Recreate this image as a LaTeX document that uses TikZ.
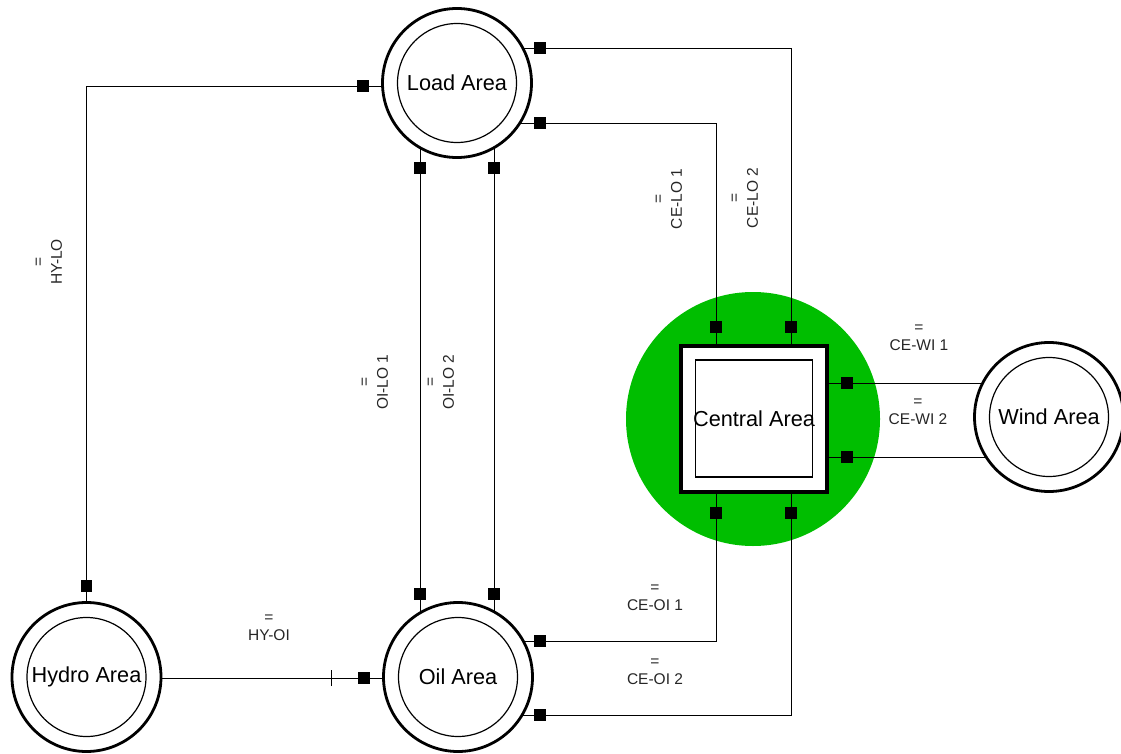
\documentclass[tikz,border=0pt]{standalone}
\usepackage{fontspec}
\setmainfont{Liberation Sans}
\pgfdeclarelayer{back}
\pgfdeclarelayer{wires}
\pgfsetlayers{back,wires,main}
\definecolor{areagreen}{RGB}{0,190,0}
\tikzset{
  area/.style={circle, draw, line width=2.8pt, fill=white, minimum size=149pt, inner sep=0pt,
    font=\fontsize{21.7}{26}\selectfont,
    path picture={\draw[line width=1.2pt] (path picture bounding box.center) circle (59.5pt);}},
  hub/.style={rectangle, draw, line width=4pt, fill=white, minimum size=146pt, inner sep=0pt,
    font=\fontsize{21.7}{26}\selectfont,
    path picture={\draw[line width=1.5pt] ([shift={(-58.7pt,-58.7pt)}]path picture bounding box.center) rectangle ([shift={(58.7pt,58.7pt)}]path picture bounding box.center);}},
  zone/.style={circle, fill=areagreen, minimum size=254pt, inner sep=0pt},
  port/.style={rectangle, fill=black, minimum size=11.5pt, inner sep=0pt},
  wire/.style={line width=0.9pt},
  lbl/.style={align=center, font=\fontsize{15.5}{18.5}\selectfont, text=black!85, inner sep=1pt},
}
\begin{document}
\begin{tikzpicture}[x=1pt,y=-1pt]
\useasboundingbox (0,0) rectangle (1121,754);
% areas
\node[area] (load) at (457,83) {Load Area};
\node[area] (oil) at (458,677) {Oil Area};
\node[area] (hydro) at (86.5,677) {Hydro Area};
\node[area] (wind) at (1049,417) {Wind Area};
\begin{pgfonlayer}{back}
\node[zone] (zonece) at (753,419) {};
\end{pgfonlayer}
\node[hub] (central) at (754,418.5) {Central Area};
% ports
\node[port] (pL1) at (540,48) {};
\node[port] (pL2) at (540,123) {};
\node[port] (pLH) at (363,86) {};
\node[port] (pLB1) at (420,168) {};
\node[port] (pLB2) at (494,168) {};
\node[port] (pH) at (86.5,586) {};
\node[port] (pOT1) at (420,594) {};
\node[port] (pOT2) at (494,594) {};
\node[port] (pO1) at (540,641) {};
\node[port] (pO2) at (540,715) {};
\node[port] (pOH) at (364,678) {};
\node[port] (pCT1) at (716,327) {};
\node[port] (pCT2) at (791,327) {};
\node[port] (pCB1) at (716,513) {};
\node[port] (pCB2) at (791,513) {};
\node[port] (pCR1) at (847,383) {};
\node[port] (pCR2) at (847,457) {};
\coordinate (tick) at (331,678);
% wires
\begin{pgfonlayer}{wires}
\draw[wire] (load.center |- pLH) -- (pLH) -- (pLH -| pH) -- (pH) -- (hydro.center);
\draw[wire] (load.center -| pLB1) -- (pLB1) -- (pOT1) -- (oil.center -| pOT1);
\draw[wire] (load.center -| pLB2) -- (pLB2) -- (pOT2) -- (oil.center -| pOT2);
\draw[wire] (load.center |- pL2) -- (pL2) -- (pL2 -| pCT1) -- (pCT1) -- (central.center -| pCT1);
\draw[wire] (load.center |- pL1) -- (pL1) -- (pL1 -| pCT2) -- (pCT2) -- (central.center -| pCT2);
\draw[wire] (oil.center |- pO1) -- (pO1) -- (pO1 -| pCB1) -- (pCB1) -- (central.center -| pCB1);
\draw[wire] (oil.center |- pO2) -- (pO2) -- (pO2 -| pCB2) -- (pCB2) -- (central.center -| pCB2);
\draw[wire] (central.center |- pCR1) -- (pCR1) -- (wind.center |- pCR1);
\draw[wire] (central.center |- pCR2) -- (pCR2) -- (wind.center |- pCR2);
\draw[wire] (hydro.center |- pOH) -- (pOH) -- (oil.center |- pOH);
\draw[wire] ([yshift=-8pt]tick) -- ([yshift=8pt]tick);
\end{pgfonlayer}
% labels
\node[lbl, rotate=90] (lHYLO) at (49,262) {=\\HY-LO};
\node[lbl, rotate=90] (lOILO1) at (375,382) {=\\OI-LO 1};
\node[lbl, rotate=90] (lOILO2) at (441,382) {=\\OI-LO 2};
\node[lbl, rotate=90] (lCELO1) at (669,199) {=\\CE-LO 1};
\node[lbl, rotate=90] (lCELO2) at (745,198) {=\\CE-LO 2};
\node[lbl] (lCEWI1) at (919,338) {=\\CE-WI 1};
\node[lbl] (lCEWI2) at (918,412) {=\\CE-WI 2};
\node[lbl] (lHYOI) at (269,628) {=\\HY-OI};
\node[lbl] (lCEOI1) at (655,598) {=\\CE-OI 1};
\node[lbl] (lCEOI2) at (655,672) {=\\CE-OI 2};
\end{tikzpicture}
\end{document}
